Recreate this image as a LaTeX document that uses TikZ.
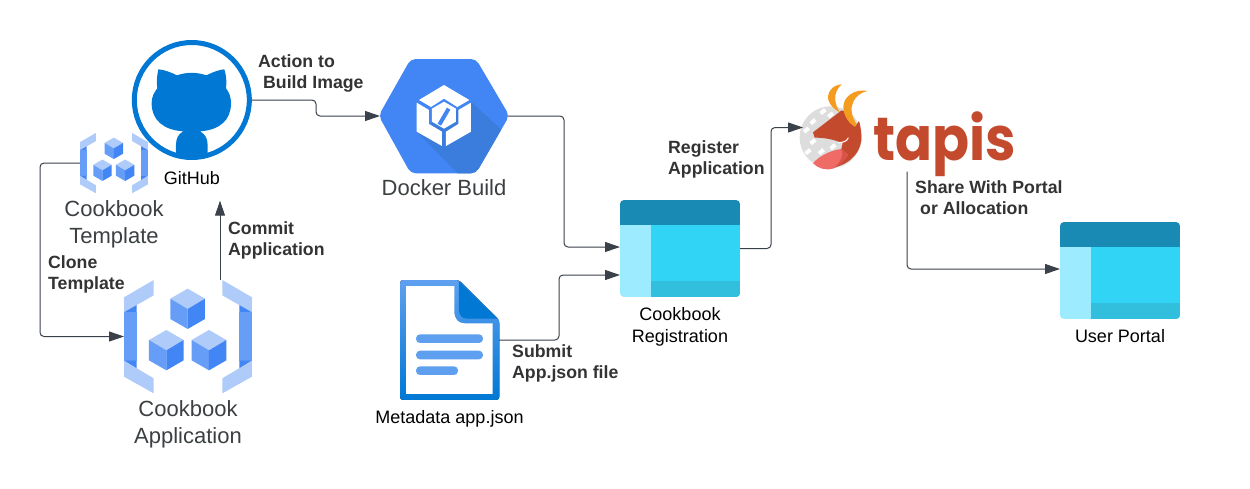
\documentclass[tikz,border=0pt]{standalone}
\usepackage{fontspec}
\setmainfont{Liberation Sans}
\newfontfamily\logofont{Poppins}
\usetikzlibrary{arrows.meta}
\definecolor{ink}{HTML}{333333}
\definecolor{gtext}{HTML}{3C4043}
\definecolor{wire}{HTML}{3A414A}
\definecolor{gl}{HTML}{AECBFA}
\definecolor{gm}{HTML}{669DF6}
\definecolor{gd}{HTML}{4285F4}
\definecolor{ghub}{HTML}{0078D4}
\definecolor{dshade}{HTML}{3B7DDD}
\definecolor{azh}{HTML}{198AB3}
\definecolor{azl}{HTML}{9CEBFF}
\definecolor{azm}{HTML}{32D4F5}
\definecolor{azb}{HTML}{32BEDD}
\definecolor{docl}{HTML}{5EA0EF}
\definecolor{tred}{HTML}{C44A2E}
\definecolor{tpink}{HTML}{EE6B66}
\definecolor{tdark}{HTML}{D9534A}
\definecolor{torange}{HTML}{F39C1F}
\definecolor{tgear}{HTML}{DDDDDD}
\tikzset{
  conn/.style={draw=wire,line width=1pt,rounded corners=4pt,-{Triangle[length=15pt,width=10pt]}},
  iconbox/.style={inner sep=0pt,outer sep=0pt,minimum width=#1},
  blabel/.style={font=\bfseries\fontsize{17.7}{21.5}\selectfont,text=ink,align=left,anchor=north west,inner sep=0pt},
  rlabel/.style={font=\fontsize{18}{22}\selectfont,text=black,align=center,anchor=north,inner sep=0pt},
  glabel/.style={font=\fontsize{22}{27}\selectfont,text=gtext,align=center,anchor=north,inner sep=0pt}
}
\newcommand{\onecube}[2]{%
  \begin{scope}[shift={(#1,#2)}]
    \fill[gl] (0,-60) -- (52,-30) -- (0,1) -- (-52,-30) -- cycle;
    \fill[gm] (-52,-30) -- (0,1) -- (0,61) -- (-52,31) -- cycle;
    \fill[gd] (52,-30) -- (0,1) -- (0,61) -- (52,31) -- cycle;
  \end{scope}}
\newcommand{\cookicon}[3]{%
  \begin{scope}[shift={(#1,#2)},x=#3pt,y=-#3pt,shift={(-72,-30)}]
    \foreach \s/\o in {1/0,-1/528}{
      \begin{scope}[xscale=\s,shift={(\s*\o,0)}]
        \fill[gl] (72,82) -- (161,30) -- (161,76) -- (72,127) -- cycle;
        \fill[gd] (72,127) -- (110,105) -- (110,127) -- cycle;
        \fill[gm] (72,127) rectangle (110,272);
        \fill[gd] (72,272) -- (110,272) -- (110,296) -- cycle;
        \fill[gl] (72,272) -- (161,325) -- (161,370) -- (72,320) -- cycle;
      \end{scope}}
    \onecube{263}{116}
    \onecube{199}{240}
    \onecube{327}{240}
  \end{scope}}
\newcommand{\azicon}[2]{%
  \begin{scope}[shift={(#1,#2)}]
    \begin{scope}
      \clip[rounded corners=4pt] (0,0) rectangle (120,97);
      \fill[azm] (31,25) rectangle (120,97);
      \fill[azb] (31,81) rectangle (120,97);
      \fill[azl] (0,25) rectangle (31,97);
      \fill[azh] (0,0) rectangle (120,25);
    \end{scope}
  \end{scope}}
\begin{document}
\begin{tikzpicture}[x=1pt,y=-1pt]
\useasboundingbox (0,0) rectangle (1250,488);
\fill[white] (0,0) rectangle (1250,488);

% --- named anchors
\node[iconbox=68pt,minimum height=60pt] (tmpl) at (114,163) {};
\node[iconbox=128pt,minimum height=113pt] (app) at (188,336.5) {};
\node[iconbox=120pt,minimum height=120pt] (gh) at (192,100) {};
\node[iconbox=128pt,minimum height=114pt] (docker) at (444,116) {};
\node[iconbox=99pt,minimum height=120pt] (meta) at (449.5,340) {};
\node[iconbox=120pt,minimum height=97pt] (reg) at (680,248.5) {};
\node[iconbox=120pt,minimum height=97pt] (portal) at (1120,270.5) {};
\node[iconbox=208pt,minimum height=88pt] (tapis) at (907,127.5) {};
\node[inner sep=0pt] (ghlabel) at (220,200) {};
\coordinate (regin1) at (620,247);
\coordinate (regin2) at (620,275);
\coordinate (portalin) at (1060,269);

% --- Cookbook icons
\cookicon{80}{133}{0.177}
\cookicon{124}{280}{0.3333}

% --- GitHub
\begin{scope}[shift={(30,30)},x=0.3333pt,y=-0.3333pt]
  \draw[ghub,line width=5pt] (485.5,210) circle (57.5pt);
  \fill[ghub] (385,118) .. controls (400,118) and (425,128) .. (441,136)
    .. controls (470,126) and (500,126) .. (529,136)
    .. controls (545,128) and (570,118) .. (583,118)
    .. controls (590,140) and (590,160) .. (588,175)
    .. controls (598,188) and (603,200) .. (603,220)
    .. controls (603,270) and (570,300) .. (510,304)
    .. controls (525,312) and (533,325) .. (533,345)
    -- (533,372) .. controls (500,385) and (470,385) .. (438,372)
    -- (438,345) .. controls (438,325) and (445,312) .. (460,304)
    .. controls (400,300) and (365,270) .. (365,220)
    .. controls (365,200) and (372,188) .. (382,175)
    .. controls (380,160) and (380,140) .. (385,118) -- cycle;
\end{scope}

% --- Docker hexagon
\begin{scope}[shift={(370,50)},x=0.3333pt,y=-0.3333pt]
  \fill[gd,rounded corners=5pt] (26,197) -- (122,27) -- (318,27) -- (418,197) -- (318,370) -- (122,370) -- cycle;
  \begin{scope}
    \clip[rounded corners=5pt] (26,197) -- (122,27) -- (318,27) -- (418,197) -- (318,370) -- (122,370) -- cycle;
    \fill[dshade] (140,245) -- (265,372) -- (340,372) -- (395,240) -- (305,157) -- cycle;
  \end{scope}
  \fill[white] (147,150) -- (222,105) -- (298,150) -- (262,171) -- (222,146) -- (183,171) -- cycle;
  \fill[white] (140,158) -- (177,180) -- (177,222) -- (216,245) -- (216,288) -- (140,245) -- cycle;
  \fill[white] (303,158) -- (303,245) -- (228,288) -- (228,245) -- (265,222) -- (265,180) -- cycle;
  \fill[white] (222,155) -- (258,176) -- (258,215) -- (222,236) -- (186,215) -- (186,176) -- cycle;
  \draw[gd,line width=4pt] (236,176) -- (208,224);
\end{scope}

% --- Metadata document
\begin{scope}[shift={(390,270)},x=0.3333pt,y=-0.3333pt]
  \fill[top color=docl,bottom color=ghub,rounded corners=3pt] (30,30) -- (207,30) -- (328,150) -- (328,390) -- (30,390) -- cycle;
  \fill[white] (48,48) -- (193,48) -- (193,125) .. controls (193,148) and (205,160) .. (225,160) -- (308,160) -- (308,372) -- (48,372) -- cycle;
  \fill[ghub] (207,33) -- (322,146) -- (232,146) .. controls (215,146) and (207,135) .. (207,120) -- cycle;
  \fill[docl,rounded corners=4pt] (78,193) rectangle (279,219);
  \fill[docl,rounded corners=4pt] (78,242) rectangle (279,268);
  \fill[docl,rounded corners=4pt] (78,289) rectangle (204,315);
\end{scope}

% --- Azure style panels
\azicon{620}{200}
\azicon{1060}{222}

% --- Tapis logo
\begin{scope}[shift={(790,75)},x=0.3333pt,y=-0.3333pt]
  \begin{scope}
    \clip (122,187) circle (31pt);
    \fill[tgear] (20,85) rectangle (230,290);
    \foreach \a/\b in {99/110,69/140,49/165,69/200,54/230,94/230,129/215,122/120}{
      \fill[white,rotate around={40:(\a,\b)}] (\a-9,\b-6) rectangle (\a+9,\b+6);
    }
  \end{scope}
  \fill[tred] (155,106) -- (69,172) -- (74,188) .. controls (100,188) and (130,192) .. (158,205)
    -- (154,222) -- (174,240) -- (134,277) .. controls (185,265) and (218,225) .. (214,180)
    .. controls (213,165) and (211,150) .. (207,138) -- (195,155) -- (165,110) -- cycle;
  \fill[tdark] (154,222) -- (174,240) .. controls (165,258) and (150,272) .. (128,281) -- cycle;
  \fill[tpink] (69,265) .. controls (85,245) and (120,226) .. (154,222)
    .. controls (162,240) and (150,265) .. (128,281)
    .. controls (105,287) and (85,280) .. (69,265) -- cycle;
  \draw[white,line width=1pt] (145,203) .. controls (160,203) and (172,198) .. (175,188);
  \fill[torange] (155,28) .. controls (125,30) and (110,55) .. (115,75)
    .. controls (120,92) and (135,105) .. (150,112)
    .. controls (135,90) and (125,55) .. (155,28) -- cycle;
  \fill[torange] (232,48) .. controls (195,40) and (160,65) .. (160,95)
    .. controls (160,120) and (175,145) .. (195,155) -- (200,148)
    .. controls (185,125) and (180,100) .. (190,80)
    .. controls (198,62) and (215,52) .. (232,48) -- cycle;
\end{scope}
\node[inner sep=0pt,anchor=base west,text=tred] (tapistext) at (873,160)
  {\scalebox{0.94}[1.05]{\logofont\bfseries\fontsize{58}{58}\selectfont tapis}};

% --- connectors
\draw[conn] (tmpl.west) -- ++(-40,0) |- (app.west);
\draw[conn] (app.north -| ghlabel) -- (ghlabel);
\draw[conn] (gh.east) -- ++(64,0) |- (docker.west);
\draw[conn] (docker.east) -- ++(56,0) |- (regin1);
\draw[conn] (meta.east) -- ++(60,0) |- (regin2);
\draw[conn] (reg.east) -- ++(31,0) |- (tapis.west);
\draw[conn] (tapis.south) |- (portalin);

% --- Labels
\node[blabel] (l1) at (258,54) {Action to\\\hspace*{5pt}Build Image};
\node[blabel] (l2) at (228,221) {Commit\\Application};
\node[blabel] (l3) at (48,255) {Clone\\Template};
\node[blabel] (l4) at (512,344) {Submit\\App.json file};
\node[blabel] (l5) at (668,140) {Register\\Application};
\node[blabel] (l6) at (915,180) {Share With Portal\\\hspace*{5pt}or Allocation};
\node[rlabel] (l7) at (192,171) {GitHub};
\node[rlabel] (l8) at (680,307) {Cookbook\\Registration};
\node[rlabel] (l9) at (1120,329) {User Portal};
\node[rlabel] (l10) at (449.5,410) {Metadata app.json};
\node[glabel] (l11) at (114,200) {Cookbook\\Template};
\node[glabel] (l12) at (188,400) {Cookbook\\Application};
\node[glabel] (l13) at (444,179) {Docker Build};
\end{tikzpicture}
\end{document}
